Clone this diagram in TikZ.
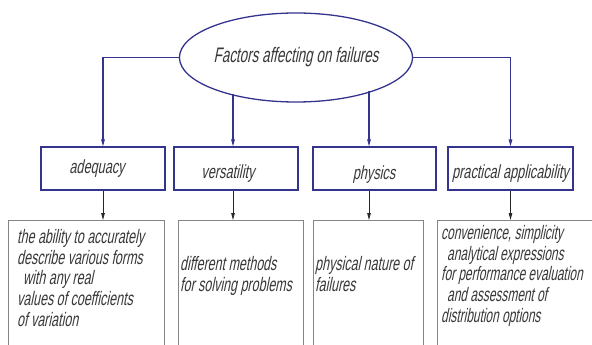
\documentclass[tikz,border=0pt]{standalone}
\usepackage{fontspec}
\usetikzlibrary{shapes.geometric,arrows.meta}
\newfontfamily\gost[FakeStretch=0.64,FakeSlant=0.2]{Liberation Sans}
\newfontfamily\gostn[FakeStretch=0.61,FakeSlant=0.2]{Liberation Sans}
\newfontfamily\gostm[FakeStretch=0.67,FakeSlant=0.2]{Liberation Sans}
\definecolor{navy}{HTML}{34348F}
\definecolor{txt}{HTML}{383838}
\definecolor{lowgray}{HTML}{858585}
\tikzset{
  topell/.style={draw=navy,line width=1.3pt,shape=ellipse,minimum width=224pt,minimum height=89pt,inner sep=0pt,text=txt,font=\gost\fontsize{21}{23}\selectfont},
  midbox/.style={draw=navy,line width=1.2pt,minimum width=124pt,minimum height=43pt,inner sep=0pt},
  lowbox/.style={draw=lowgray,line width=0.8pt,anchor=north west,inner sep=0pt},
  midtxt/.style={text=txt,font=\gostm\fontsize{19}{21}\selectfont,inner sep=0pt},
  lowtxt/.style={text=txt,font=\gost\fontsize{19.5}{20.8}\selectfont,inner sep=0pt,anchor=north west,align=left},
  topconn/.style={draw=navy,line width=1.1pt,-{Triangle[length=7pt,width=3.5pt]},color=navy},
  lowconn/.style={draw=black!85,line width=0.9pt,-{Triangle[length=7pt,width=3.5pt]}},
}
\begin{document}
\begin{tikzpicture}[x=1pt,y=-1pt]
\useasboundingbox (0,0) rectangle (592,345);
\clip (0,0) rectangle (592,345);
\fill[white] (0,0) rectangle (592,345);

\node[topell] (top) at (296,57.5) {Factors affecting on failures};

\node[midbox] (b1) at (103,168.5) {};
\node[midbox] (b2) at (236,168.5) {};
\node[midbox,minimum width=123pt] (b3) at (374.5,168.5) {};
\node[midbox,minimum width=125pt] (b4) at (510.5,168.5) {};

\node[midtxt,anchor=base] (t1) at (97,173) {adequacy};
\node[midtxt,anchor=base] (t2) at (228,178) {versatility};
\node[midtxt,anchor=base] (t3) at (374,179) {physics};
\node[midtxt,anchor=base] (t4) at (510.5,178) {practical applicability};

\node[lowbox,minimum width=156pt,minimum height=140pt] (c1) at (8,220) {};
\node[lowbox,minimum width=125pt,minimum height=140pt] (c2) at (178,220) {};
\node[lowbox,minimum width=110pt,minimum height=140pt] (c3) at (313,220) {};
\node[lowbox,minimum width=180pt,minimum height=140pt] (c4) at (437,220) {};

\node[lowtxt] (d1) at (17,229) {the ability to accurately\\describe various forms\\\hspace*{6pt}with any real\\values of coefficients\\of variation};
\node[lowtxt] (d2) at (180,256) {different methods\\for solving problems};
\node[lowtxt] (d3) at (315,256) {physical nature of\\failures};
\node[lowtxt,font=\gostn\fontsize{19.5}{20.8}\selectfont] (d4) at (441,225) {convenience, simplicity\\\hspace*{6pt}analytical expressions\\for performance evaluation\\\hspace*{6pt}and assessment of\\distribution options};

\coordinate (s2) at (233,94.3);
\coordinate (s3) at (369,91.2);

\draw[topconn] (top.west) -| (b1.north);
\draw[topconn] (top.east) -| (b4.north);
\draw[topconn] (s2) -- (s2 |- b2.north);
\draw[topconn] (s3) -- (s3 |- b3.north);

\draw[lowconn] (b1.south) -- (b1.south |- c1.north);
\draw[lowconn] (b2.south -| s2) -- (s2 |- c2.north);
\draw[lowconn] (b3.south -| s3) -- (s3 |- c3.north);
\draw[lowconn] (b4.south) -- (b4.south |- c4.north);
\end{tikzpicture}
\end{document}
